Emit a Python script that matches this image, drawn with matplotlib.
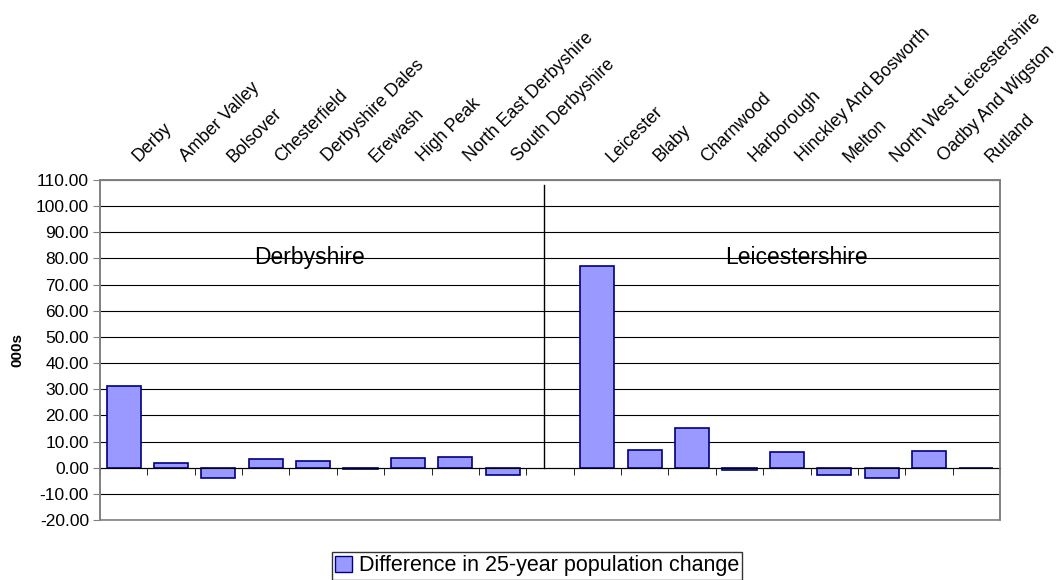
import matplotlib
matplotlib.use("Agg")
import matplotlib.pyplot as plt
from matplotlib.patches import Rectangle, Patch
import numpy as np

plt.rcParams['font.family'] = ['Liberation Sans', 'DejaVu Sans']

derbyshire = ["Derby", "Amber Valley", "Bolsover", "Chesterfield", "Derbyshire Dales",
              "Erewash", "High Peak", "North East Derbyshire", "South Derbyshire"]
derby_vals = [31.4, 1.7, -3.8, 3.2, 2.7, -0.4, 3.6, 4.1, -2.8]
leicestershire = ["Leicester", "Blaby", "Charnwood", "Harborough", "Hinckley And Bosworth",
                  "Melton", "North West Leicestershire", "Oadby And Wigston", "Rutland"]
leics_vals = [77.0, 6.8, 15.2, -0.9, 6.0, -2.8, -4.0, 6.2, -0.3]

categories = derbyshire + [""] + leicestershire
values = derby_vals + [np.nan] + leics_vals
series_name = "Difference in 25-year population change"
yticks = list(range(-20, 111, 10))

fig = plt.figure(figsize=(10.63, 5.80), dpi=100)
ax = fig.add_axes([100/1063, 60/580, 900/1063, 340/580])

x = np.arange(len(categories))
ax.bar(x, values, width=0.72, color='#9999FF', edgecolor='#000080', linewidth=1.2, zorder=3)

ax.set_xlim(-0.5, len(categories) - 0.5)
ax.set_ylim(-20, 110)
for yv in yticks:
    ax.axhline(yv, color='black', lw=0.8, zorder=1)

# frame
for s in ['top', 'right', 'left']:
    ax.spines[s].set_color('#808080')
    ax.spines[s].set_linewidth(1.2)
ax.spines['bottom'].set_position(('data', 0))
ax.spines['bottom'].set_color('black')
ax.spines['bottom'].set_zorder(4)
ax.add_patch(Rectangle((0, 0), 1, 1, transform=ax.transAxes, fill=False,
                       edgecolor='#808080', lw=1.2, zorder=5, clip_on=False))

ax.set_yticks(yticks)
ax.set_yticklabels([f"{v:.2f}" for v in yticks], fontsize=12.5)
ax.tick_params(axis='y', direction='out', length=5, color='#808080', pad=3)

ax.set_xticks(np.arange(len(categories) + 1) - 0.5, minor=True)
ax.set_xticks([])
ax.tick_params(axis='x', which='minor', direction='out', length=5, color='black', labelbottom=False)

for i, lab in enumerate(categories):
    if lab:
        ax.annotate(lab, xy=(i, 1), xycoords=('data', 'axes fraction'),
                    xytext=(11, 12.5), textcoords='offset points',
                    rotation=45, rotation_mode='anchor', ha='left', va='baseline',
                    fontsize=12.8, annotation_clip=False)

ax.set_ylabel("000s", fontsize=11, fontweight='bold', labelpad=8)

ax.plot([8.88, 8.88], [0, 108], color='black', lw=1, zorder=2)
ax.text(3.93, 80.5, "Derbyshire", ha='center', va='center', fontsize=16.5, zorder=4)
ax.text(14.21, 80.5, "Leicestershire", ha='center', va='center', fontsize=16.5, zorder=4)

leg = fig.legend(handles=[Patch(facecolor='#9999FF', edgecolor='#000080', label=series_name)],
                 loc='center', bbox_to_anchor=(537/1063, 1 - 566/580), fontsize=15.5,
                 frameon=True, fancybox=False, edgecolor='black', borderpad=0.15,
                 handlelength=0.8, handleheight=0.8, handletextpad=0.3, borderaxespad=0)
leg.get_frame().set_linewidth(1.0)

fig.savefig("out.png", dpi=100)
